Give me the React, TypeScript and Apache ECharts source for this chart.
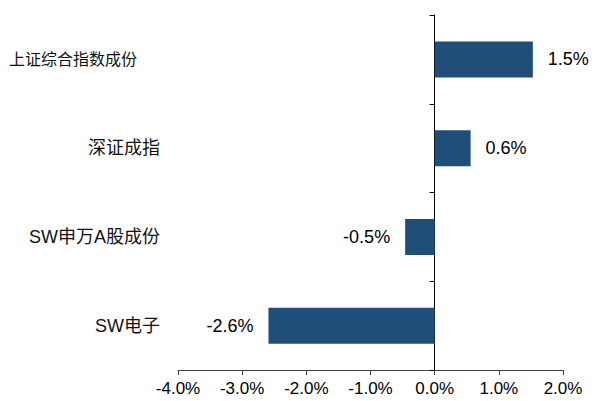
import React, { useEffect, useRef } from "react";
import * as echarts from "echarts";

const categories = ["上证综合指数成份", "深证成指", "SW申万A股成份", "SW电子"];
const values = [1.53, 0.56, -0.46, -2.59];
const xTicks = { min: -4, max: 2, interval: 1 };

export default function App() {
  const ref = useRef<HTMLDivElement>(null);
  useEffect(() => {
    if (!ref.current) return;
    const chart = echarts.init(ref.current, null, { renderer: "svg" });
    const labelFont = "Liberation Sans, Arial, 'Noto Sans CJK SC', sans-serif";
    chart.setOption({
      animation: false,
      grid: { left: 178, right: 40, top: 15, bottom: 31, containLabel: false },
      xAxis: {
        type: "value",
        min: xTicks.min,
        max: xTicks.max,
        interval: xTicks.interval,
        splitLine: { show: false },
        axisLine: { show: true, onZero: false, lineStyle: { color: "#404040", width: 1 } },
        axisTick: { show: true, length: 5, lineStyle: { color: "#404040" } },
        axisLabel: {
          formatter: (v: number) => v.toFixed(1) + "%",
          color: "#000",
          fontSize: 17,
          fontFamily: labelFont,
          margin: 10,
        },
      },
      yAxis: [
        {
          type: "category",
          position: "left",
          inverse: true,
          data: categories,
          axisLine: { show: true, onZero: true, lineStyle: { color: "#000", width: 1 } },
          axisTick: { show: true, length: 5, lineStyle: { color: "#000" } },
          axisLabel: { show: false },
          splitLine: { show: false },
        },
        {
          type: "category",
          position: "left",
          inverse: true,
          data: categories,
          axisLine: { show: false, onZero: false },
          axisTick: { show: false },
          axisLabel: {
            color: "#111",
            fontSize: 18,
            fontFamily: labelFont,
            margin: 18,
            formatter: (v: string, i: number) => (i === 0 ? "{s|" + v + "}" : "{n|" + v + "}"),
            rich: {
              s: { fontSize: 16, fontFamily: labelFont, color: "#111", padding: [0, 23, 0, 0] },
              n: { fontSize: 18, fontFamily: labelFont, color: "#111" },
            },
          },
          splitLine: { show: false },
        },
      ],
      series: [
        {
          type: "bar",
          yAxisIndex: 0,
          barWidth: 36,
          itemStyle: { color: "#1F4E79" },
          data: values.map((v) => ({
            value: v,
            label: {
              show: true,
              position: v >= 0 ? "right" : "left",
              distance: 15,
              formatter: (p: any) => p.value.toFixed(1) + "%",
              color: "#000",
              fontSize: 18,
              fontFamily: labelFont,
            },
          })),
        },
      ],
    });
    return () => chart.dispose();
  }, []);
  return <div ref={ref} style={{ width: 603, height: 401, position: "absolute", left: 0, top: 0 }} />;
}
